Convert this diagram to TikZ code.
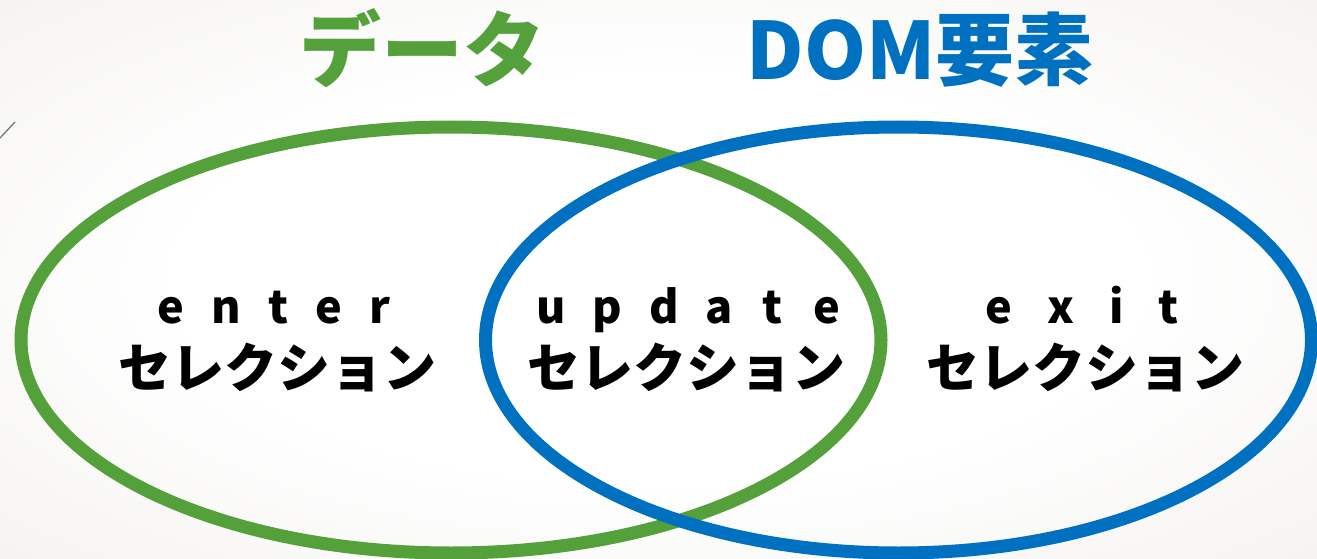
\documentclass[tikz,border=0pt]{standalone}
\usepackage{fontspec}
\newfontfamily\jp{Noto Sans CJK JP}
\definecolor{vgreen}{RGB}{84,160,58}
\definecolor{vblue}{RGB}{0,112,192}
\definecolor{bgedge}{RGB}{234,231,226}
\definecolor{tick}{RGB}{100,118,112}
\pgfdeclareradialshading{bgshade}{\pgfpoint{0bp}{0bp}}{color(0bp)=(white); color(18bp)=(white); color(55bp)=(bgedge); color(80bp)=(bgedge)}
\tikzset{
  ring/.style={line width=13pt},
  title/.style={inner sep=0pt, font=\jp\bfseries\fontsize{82}{82}\selectfont},
  latin/.style={inner sep=0pt, anchor=base, text=black, font=\jp\bfseries\fontsize{45}{45}\selectfont},
  kana/.style={inner sep=0pt, text=black, font=\jp\bfseries\fontsize{53}{53}\selectfont},
}
\begin{document}
\begin{tikzpicture}[x=1pt,y=-1pt]
\useasboundingbox (0,0) rectangle (1317,559);
\shade[shading=bgshade] (0,0) rectangle (1317,559);
\coordinate (t1) at (0,138);
\coordinate (t2) at (15,122);
\draw[tick, line width=1.2pt] (t1) -- (t2);
\draw[ring, vgreen] (451,340) ellipse [x radius=430pt, y radius=213pt];
\draw[ring, vblue] (898.5,340) ellipse [x radius=413pt, y radius=213pt];
\node[title, text=vgreen] (data) at (422,48) {データ};
\node[title, text=vblue, font=\jp\bfseries\fontsize{79}{79}\selectfont] (dom) at (920,50) {DOM要素};
\node[latin] (enter) at (274,323) {e\kern27pt n\kern27pt t\kern27pt e\kern27pt r};
\node[latin] (update) at (688,323) {u\kern27pt p\kern27pt d\kern27pt a\kern29pt t\kern31pt e};
\node[latin] (exit) at (1082,323) {e\kern35pt x\kern35pt i\kern35pt t};
\node[kana] (sel1) at (277,367) {セレクション};
\node[kana] (sel2) at (686,367) {セレクション};
\node[kana] (sel3) at (1085,367) {セレクション};
\end{tikzpicture}
\end{document}
